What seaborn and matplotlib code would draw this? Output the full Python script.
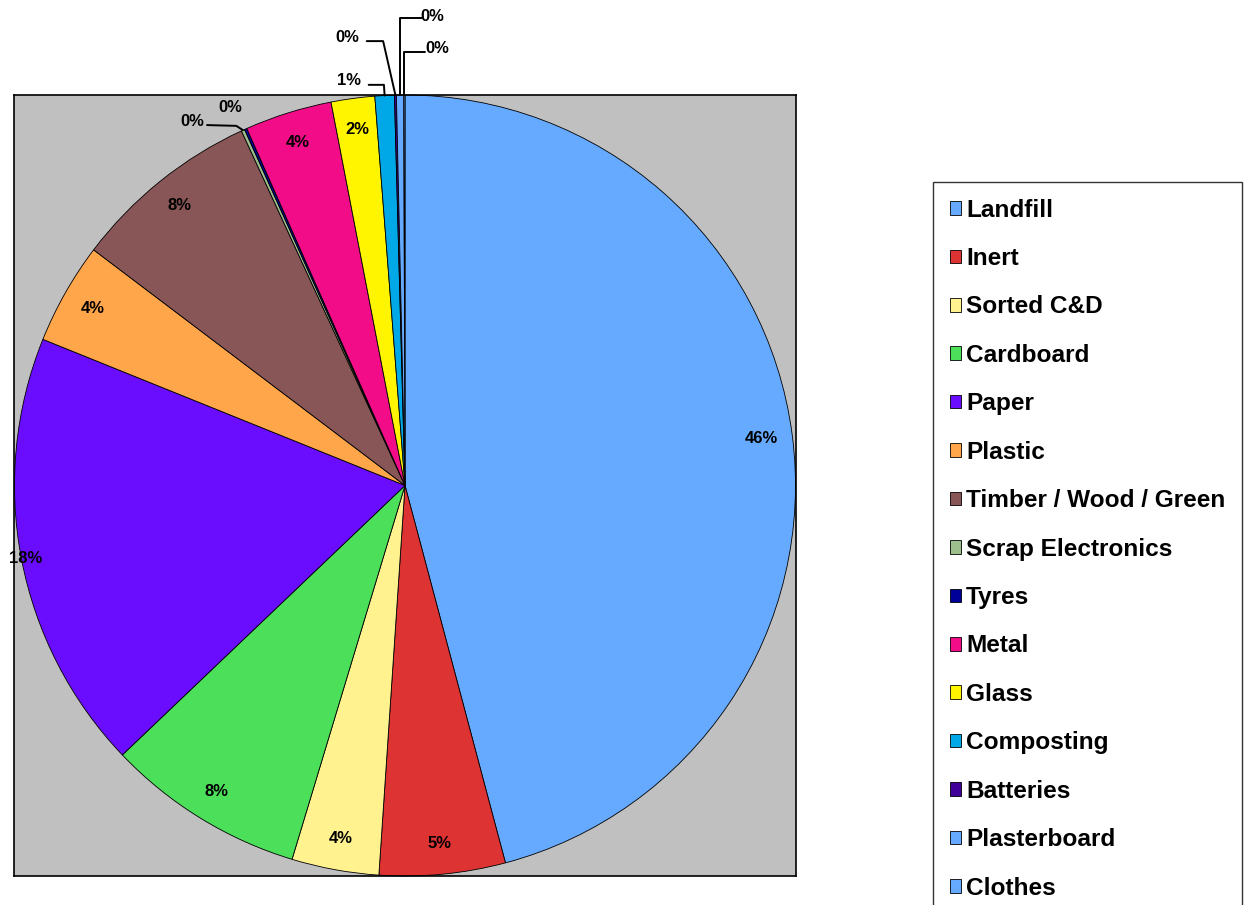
import numpy as np
import matplotlib
matplotlib.use("Agg")
import matplotlib.pyplot as plt
import seaborn as sns

categories = ["Landfill", "Inert", "Sorted C&D", "Cardboard", "Paper", "Plastic",
              "Timber / Wood / Green", "Scrap Electronics", "Tyres", "Metal", "Glass",
              "Composting", "Batteries", "Plasterboard", "Clothes"]
shares = [45.8, 5.2, 3.6, 8.2, 18.2, 4.2, 7.8, 0.14, 0.1, 3.6, 1.8, 0.8, 0.08, 0.3, 0.05]
colors = ["#66AAFF", "#DD3333", "#FFF28F", "#4CE05A", "#6A0DFF", "#FFA54A", "#885656",
          "#9DBF8E", "#000099", "#F20C88", "#FFF500", "#00A8E8", "#400099", "#66AAFF", "#66AAFF"]

sns.set_style("white")
plt.rcParams["font.family"] = ["Liberation Sans", "DejaVu Sans"]
plt.rcParams["font.weight"] = "bold"
plt.rcParams["text.color"] = "black"

W, H = 1247, 905
fig = plt.figure(figsize=(W / 100, H / 100), dpi=100)
ax = fig.add_axes([14 / W, (H - 876) / H, 782 / W, 781 / H])

palette = sns.color_palette(colors)
wedges, _ = ax.pie(shares, colors=palette, startangle=90, counterclock=False,
                   wedgeprops=dict(edgecolor="black", linewidth=0.6))

ax.set_frame_on(True)
ax.set_facecolor("#C0C0C0")
for s in ax.spines.values():
    s.set_color("black")
    s.set_linewidth(1.2)
ax.set_xlim(-1, 1)
ax.set_ylim(-1, 1)
ax.set_xticks([])
ax.set_yticks([])

total = sum(shares)
pct = [f"{round(v / total * 100):.0f}%" for v in shares]


def mid(w):
    a = np.deg2rad((w.theta1 + w.theta2) / 2)
    return np.cos(a), np.sin(a)


# labels inside the big slices
inside = ["Landfill", "Inert", "Sorted C&D", "Cardboard", "Paper", "Plastic",
          "Timber / Wood / Green", "Metal", "Glass"]
for name in inside:
    idx = categories.index(name)
    r = 0.99 if name == "Paper" else 0.92
    c, s = mid(wedges[idx])
    ax.text(r * c, r * s, pct[idx], ha="center", va="center", fontsize=12,
            fontweight="bold", color="black")

# small slices with leader lines
outside = {
    "Scrap Electronics": ((-0.545, 0.931), [(-0.507, 0.923), (-0.432, 0.921)]),
    "Tyres": ((-0.448, 0.967), None),
    "Composting": ((-0.143, 1.036), [(-0.093, 1.026), (-0.054, 1.026)]),
    "Batteries": ((-0.148, 1.148), [(-0.098, 1.138), (-0.056, 1.138)]),
    "Plasterboard": ((0.069, 1.202), [(0.044, 1.197), (-0.010, 1.197)]),
    "Clothes": ((0.082, 1.118), [(0.052, 1.110), (0.003, 1.110)]),
}
for name, (tpos, path) in outside.items():
    idx = categories.index(name)
    ax.text(tpos[0], tpos[1], pct[idx], ha="center", va="center", fontsize=12,
            fontweight="bold", color="black", clip_on=False)
    if path:
        c, s = mid(wedges[idx])
        xs = [p[0] for p in path] + [c]
        ys = [p[1] for p in path] + [s]
        if name in ("Plasterboard", "Clothes"):
            xs[-2] = c
        ax.plot(xs, ys, color="black", lw=1.4, clip_on=False, zorder=5)

leg = fig.legend(wedges, categories, loc="upper left",
                 bbox_to_anchor=(933 / W, 1 - 182 / H), borderaxespad=0,
                 frameon=True, fancybox=False, edgecolor="black",
                 prop=dict(family="Liberation Sans", weight="bold", size=17.6),
                 handlelength=0.48, handleheight=0.48, handletextpad=0.2,
                 labelspacing=1.04, borderpad=0.68, labelcolor="black")
leg.get_frame().set_linewidth(1.0)

fig.savefig("out.png", dpi=100)
